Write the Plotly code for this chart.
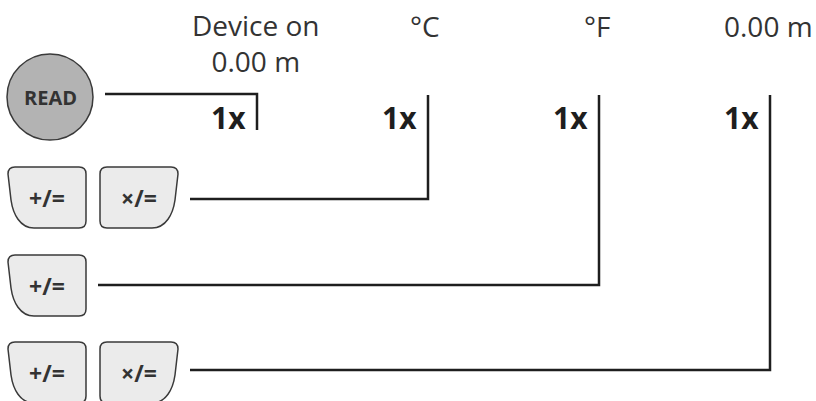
import plotly.graph_objects as go

# ---- content ----
display_labels = ["Device on<br>0.00 m", "°C", "°F", "0.00 m"]
press_counts = ["1x", "1x", "1x", "1x"]
row_keys = [["READ"], ["+/=", "×/="], ["+/="], ["+/=", "×/="]]

# ---- layout geometry (pixels) ----
W, H = 816, 401
col_x = [257, 428, 599, 770]
row_y = [94, 199, 285, 370]
key_top = [None, 167, 255, 342]
line_start = [105, 190, 98, 190]
label_pos = [(256, 43), (425, 26), (597, 26), (768, 26)]
key_left = [8, 100]
key_w = 78
key_h = 61
LINE = "#1e1e1e"
TXT = "#333333"

shapes = []
annotations = []

def left_key(x0, y0):
    x1, y1 = x0 + key_w, y0 + key_h
    r = 7
    return (f"M {x0},{y0+r} Q {x0},{y0} {x0+r},{y0} L {x1-r},{y0} Q {x1},{y0} {x1},{y0+r} "
            f"L {x1},{y1-r} Q {x1},{y1} {x1-r},{y1} L {x0+26},{y1} "
            f"C {x0+12},{y1} {x0+5},{y1-14} {x0+3},{y1-28} L {x0},{y0+r} Z")

def right_key(x0, y0):
    x1, y1 = x0 + key_w, y0 + key_h
    r = 7
    return (f"M {x0},{y0+r} Q {x0},{y0} {x0+r},{y0} L {x1-r},{y0} Q {x1},{y0} {x1},{y0+r} "
            f"L {x1-3},{y1-28} C {x1-5},{y1-14} {x1-12},{y1} {x1-26},{y1} "
            f"L {x0+r},{y1} Q {x0},{y1} {x0},{y1-r} Z")

for i, keys in enumerate(row_keys):
    y = row_y[i]
    if keys == ["READ"]:
        cx, cy, rad = 50, 97, 43
        shapes.append(dict(type="circle", xref="x", yref="y", x0=cx-rad, x1=cx+rad,
                           y0=cy-rad, y1=cy+rad, fillcolor="#b3b3b3",
                           line=dict(color="#3a3a3a", width=1.5), layer="above"))
        annotations.append(dict(x=cx, y=cy, text="<b>READ</b>", showarrow=False,
                                font=dict(family="Open Sans", size=20, color=TXT)))
    else:
        for k, key in enumerate(keys):
            x0 = key_left[k]
            y0 = key_top[i]
            path = left_key(x0, y0) if k == 0 else right_key(x0, y0)
            shapes.append(dict(type="path", path=path, xref="x", yref="y",
                               fillcolor="#ebebeb", line=dict(color="#3a3a3a", width=1.5)))
            annotations.append(dict(x=x0 + key_w/2, y=y0 + 31, text=f"<b>{key}</b>", showarrow=False,
                                    font=dict(family="Open Sans", size=23, color=TXT)))
    # connector line
    x = col_x[i]
    if i == 0:
        path = f"M {line_start[i]},{y} L {x},{y} L {x},130"
    else:
        path = f"M {line_start[i]},{y} L {x},{y} L {x},95"
    shapes.append(dict(type="path", xref="x", yref="y", path=path,
                       line=dict(color=LINE, width=2.5)))
    # count label
    annotations.append(dict(x=x - 9, y=117, text=f"<b>{press_counts[i]}</b>", showarrow=False,
                            xanchor="right", yanchor="middle",
                            font=dict(family="Open Sans", size=30, color="#1e1e1e")))
    # display label
    lx, ly = label_pos[i]
    annotations.append(dict(x=lx, y=ly, text=display_labels[i], showarrow=False,
                            xanchor="center", yanchor="middle", align="center",
                            font=dict(family="Open Sans", size=28, color=TXT)))

fig = go.Figure()
fig.add_trace(go.Scatter(x=[0, W], y=[0, H], mode="markers", marker=dict(opacity=0),
                         hoverinfo="skip", showlegend=False))
fig.update_layout(width=W, height=H, margin=dict(l=0, r=0, t=0, b=0),
                  plot_bgcolor="white", paper_bgcolor="white",
                  xaxis=dict(range=[0, W], visible=False, fixedrange=True),
                  yaxis=dict(range=[H, 0], visible=False, fixedrange=True),
                  shapes=shapes, annotations=annotations, showlegend=False)
fig.write_html("out.html", config={"displayModeBar": False},
               post_script="document.body.style.margin='0';document.body.style.overflow='hidden';")
